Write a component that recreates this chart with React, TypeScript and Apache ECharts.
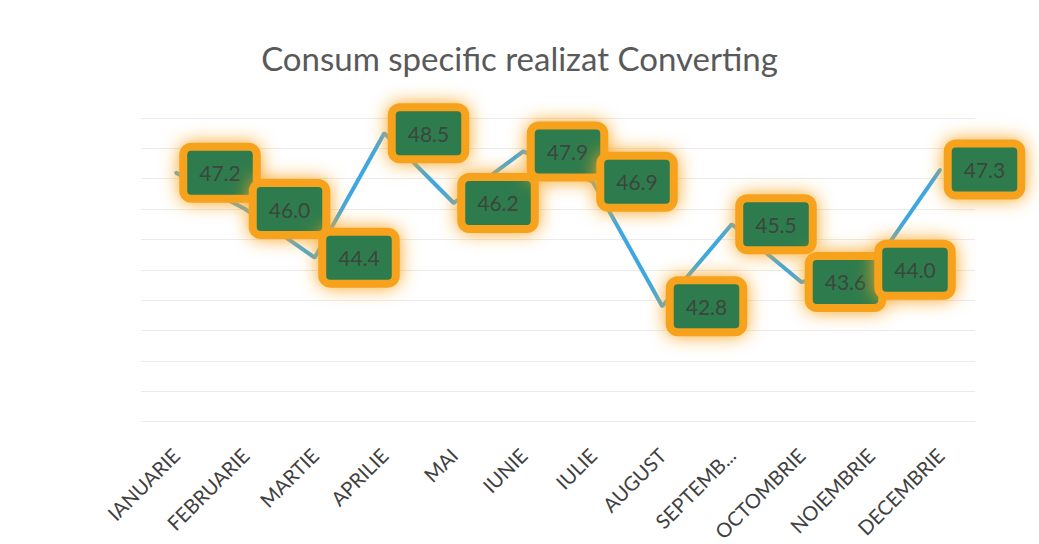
import React, { useEffect, useRef } from "react";
import * as echarts from "echarts";

const TITLE = "Consum specific realizat Converting";
const months = [
  "IANUARIE",
  "FEBRUARIE",
  "MARTIE",
  "APRILIE",
  "MAI",
  "IUNIE",
  "IULIE",
  "AUGUST",
  "SEPTEMBRIE",
  "OCTOMBRIE",
  "NOIEMBRIE",
  "DECEMBRIE",
];
const consum = [47.2, 46.0, 44.4, 48.5, 46.2, 47.9, 46.9, 42.8, 45.5, 43.6, 44.0, 47.3];
const yMin = 39;
const yMax = 49;
const yStep = 1;

export default function App() {
  const ref = useRef<HTMLDivElement>(null);
  useEffect(() => {
    document.body.style.margin = "0";
    const chart = echarts.init(ref.current!, undefined, { renderer: "svg" });
    chart.setOption({
      animation: false,
      backgroundColor: "#ffffff",
      title: {
        text: TITLE,
        left: "center",
        top: 36,
        textStyle: {
          fontFamily: "Lato",
          fontSize: 33,
          fontWeight: "normal",
          color: "#595959",
        },
      },
      grid: { left: 141, right: 64, top: 118, bottom: 115 },
      xAxis: {
        type: "category",
        data: months,
        boundaryGap: true,
        axisLine: { show: true, lineStyle: { color: "#ebebeb" } },
        axisTick: { show: false },
        axisLabel: {
          rotate: 45,
          margin: 30,
          fontFamily: "Lato",
          fontSize: 20,
          color: "#404040",
          interval: 0,
          formatter: (v: string) => (v.length > 9 ? v.slice(0, 7) + "..." : v),
        },
      },
      yAxis: {
        type: "value",
        min: yMin,
        max: yMax,
        interval: yStep,
        axisLabel: { show: false },
        axisLine: { show: false },
        axisTick: { show: false },
        splitLine: { lineStyle: { color: "#ebebeb", width: 1 } },
      },
      series: [
        {
          type: "line",
          data: consum,
          symbol: "circle",
          symbolSize: 3,
          showSymbol: true,
          itemStyle: { color: "#3fa7df" },
          lineStyle: { color: "#3fa7df", width: 4 },
          label: {
            show: true,
            position: "right",
            distance: 10,
            formatter: (p: any) => Number(p.value).toFixed(1),
            fontFamily: "Lato",
            fontSize: 21,
            lineHeight: 22,
            color: "#3b463d",
            backgroundColor: "#2e7b4d",
            borderColor: "#f7a21c",
            borderWidth: 8,
            borderRadius: 4,
            padding: [11, 12],
            shadowBlur: 18,
            shadowColor: "#f8a420",
          },
        },
      ],
    });
    return () => chart.dispose();
  }, []);
  return (
    <div
      ref={ref}
      style={{ position: "fixed", left: 0, top: 0, width: 1039, height: 544 }}
    />
  );
}
